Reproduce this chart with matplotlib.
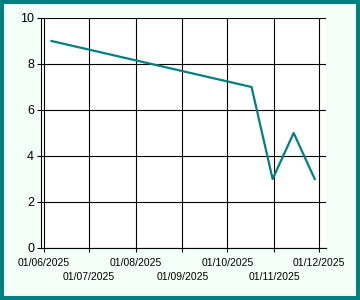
import matplotlib
matplotlib.use("Agg")
import matplotlib.pyplot as plt
import matplotlib.dates as mdates
from matplotlib.patches import Rectangle
from datetime import datetime

# data
dates = ["2025-06-06", "2025-10-17", "2025-10-31", "2025-11-14", "2025-11-28"]
values = [9, 7, 3, 5, 3]
row1_ticks = ["2025-06-01", "2025-08-01", "2025-10-01", "2025-12-01"]
row2_ticks = ["2025-07-01", "2025-09-01", "2025-11-01"]
y_ticks = [0, 2, 4, 6, 8, 10]

teal = "#008080"
plt.rcParams['font.family'] = ['Liberation Sans', 'DejaVu Sans']

def to_dt(lst):
    return [datetime.strptime(d, "%Y-%m-%d") for d in lst]

fig = plt.figure(figsize=(3.6, 3.0), dpi=100, facecolor="#F5FFFA")
ax = fig.add_axes([41/360, 1 - 248/300, (326 - 41)/360, (248 - 18)/300])
ax.set_facecolor("white")

ax.plot(to_dt(dates), values, color=teal, linewidth=1.6, zorder=3)

ax.set_xlim(datetime(2025, 5, 30), datetime(2025, 12, 5, 12))
ax.set_ylim(0, 10)
ax.set_yticks(y_ticks)

ax.set_xticks(to_dt(row1_ticks))
ax.set_xticks(to_dt(row2_ticks), minor=True)
fmt = mdates.DateFormatter("%d/%m/%Y")
ax.xaxis.set_major_formatter(fmt)
ax.xaxis.set_minor_formatter(fmt)

ax.tick_params(axis="x", which="major", length=3, width=0.8, pad=4, labelsize=7.5)
ax.tick_params(axis="x", which="minor", length=3, width=0.8, pad=14, labelsize=7.5)
ax.tick_params(axis="y", length=3, width=0.8, pad=2, labelsize=9)

ax.grid(True, which="both", color="black", linewidth=0.8)
ax.set_axisbelow(True)

for s in ["top", "right"]:
    ax.spines[s].set_visible(False)
ax.spines["left"].set_position(("outward", 0))
ax.spines["left"].set_linewidth(0.8)
ax.spines["bottom"].set_linewidth(0.8)

fig.patches.append(Rectangle((0, 0), 1, 1, transform=fig.transFigure,
                             fill=False, edgecolor=teal, linewidth=5.8))

fig.savefig("out.png", dpi=100, facecolor=fig.get_facecolor())
